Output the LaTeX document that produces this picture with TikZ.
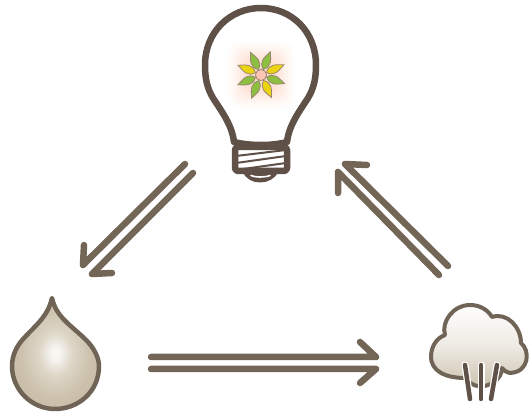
\documentclass[tikz,border=0pt]{standalone}
\usetikzlibrary{calc}
\definecolor{arrowc}{HTML}{736657}
\definecolor{bulbc}{HTML}{5F5048}
\definecolor{edgec}{HTML}{6F6455}
\definecolor{leafg}{HTML}{8CBF3F}
\definecolor{leafy}{HTML}{EBD40F}
\definecolor{leafe}{HTML}{9A8672}
\definecolor{glow}{HTML}{FBC9AE}
\definecolor{dropa}{HTML}{F8F7F4}
\definecolor{dropb}{HTML}{DDD5C6}
\definecolor{dropc}{HTML}{CCC2AD}
\definecolor{dropd}{HTML}{C2B7A0}
\definecolor{drope}{HTML}{A39882}
\definecolor{cloudb}{HTML}{CBC2AE}
\definecolor{cloudm}{HTML}{EEEAE3}
\pgfdeclareradialshading{dropshade}{\pgfpoint{0bp}{0bp}}{color(0bp)=(dropa);color(2bp)=(dropa);color(10bp)=(dropb);color(20bp)=(dropc);color(36bp)=(dropd);color(50bp)=(drope);color(100bp)=(drope)}
\tikzset{
  pair/.style={draw=arrowc,line width=6.5pt,line cap=round,line join=round},
  bulbline/.style={draw=bulbc,line width=6.5pt,line cap=round,line join=round},
  rain/.style={line cap=round,line width=4.5pt,draw=bulbc},
  rainhalo/.style={line cap=round,line width=7pt,draw=white},
  petal/.style={draw=leafe,line width=.8pt},
}
\newcommand{\leaf}[2]{%
  \fill[petal,fill=#2] (#1:6) .. controls ($(#1:6)+(#1+50:9)$) and ($(#1:25)+(#1+155:9)$) .. (#1:25) .. controls ($(#1:25)+(#1-155:9)$) and ($(#1:6)+(#1-50:9)$) .. (#1:6) -- cycle;}
\begin{document}
\begin{tikzpicture}[x=1pt,y=-1pt]
\useasboundingbox (0,0) rectangle (531,414);
\fill[white] (0,0) rectangle (531,414);
% glow
\begin{scope}[shift={(261,75)}]
\foreach \r/\m in {33/4,31/8,29/12,27/18,25/24,23/32,21/40,18/50,14/60}{
  \fill[glow!\m!white,rounded corners=10pt] (-\r,-\r) rectangle (\r,\r);
}
\foreach \a/\c in {-115/leafg,-68/leafg,-24/leafy,20/leafg,65/leafy,112/leafg,157/leafg,-157/leafy}{\leaf{\a}{\c}}
\fill[glow!70!pink,draw=leafe,line width=.8pt] (0,0) circle (5.6);
\end{scope}
% bulb
\path[bulbline] (234,142) .. controls (232,125) and (222,112) .. (213,98) .. controls (207,88) and (205,78) .. (205,65) .. controls (205,32) and (230,8) .. (261,8) .. controls (292,8) and (316,32) .. (316,65) .. controls (316,78) and (314,88) .. (308,98) .. controls (299,112) and (289,125) .. (287,142) .. controls (272,146) and (250,146) .. (234,142) -- cycle;
% screw
\path[bulbline,fill=white,rounded corners=3pt] (235,147) -- (287,147) -- (287,171) -- (235,171) -- cycle;
\path[draw=bulbc,line width=2pt] (236,156) -- (286,150) (236,163) -- (286,156) (236,170) -- (286,163);
\path[fill=bulbc] (243,172) .. controls (248,186) and (272,186) .. (278,172) -- cycle;
\path[draw=white,line width=1.6pt,line cap=round] (251,175.5) .. controls (255,177.5) and (265,177.5) .. (270,175.5);
% drop
\path[draw=edgec,line width=4.5pt,line join=round,shading=dropshade] (52,298) .. controls (56,316) and (68,323) .. (84,338) .. controls (94,347) and (99,358) .. (99,366) .. controls (99,392) and (78,409) .. (55,409) .. controls (32,409) and (12,390) .. (12,366) .. controls (12,355) and (17,345) .. (25,337) .. controls (37,324) and (48,316) .. (52,298) -- cycle;
% cloud
\path[draw=edgec,line width=4pt,line join=round,top color=white,bottom color=cloudb,middle color=cloudm] (465,378) .. controls (447,378) and (430,372) .. (431,355) .. controls (432,345) and (437,338) .. (445,335) .. controls (441,322) and (453,305) .. (470,305) .. controls (480,305) and (488,310) .. (492,317) .. controls (507,312) and (521,327) .. (521,343) .. controls (530,350) and (530,372) .. (510,373) .. controls (507,373) and (505,371) .. (502,368) .. controls (502,380) and (488,388) .. (478,386) .. controls (474,386) and (468,382) .. (465,378) -- cycle;
% rain
\coordinate (r1a) at (465,365); \coordinate (r1b) at (470,399);
\coordinate (r2a) at (481,365); \coordinate (r2b) at (481,399);
\coordinate (r3a) at (497,365); \coordinate (r3b) at (491,399);
\foreach \n in {1,2,3}{\draw[rainhalo] (r\n a) -- (r\n b);}
\foreach \n in {1,2,3}{\draw[rain] (r\n a) -- (r\n b);}
% arrows
\coordinate (a1s) at (185,164); \coordinate (a1e) at (83,265); \coordinate (a1b) at (84,245);
\coordinate (a2s) at (193,173); \coordinate (a2e) at (92,274); \coordinate (a2b) at (112,273);
\coordinate (b1s) at (439,275); \coordinate (b1e) at (338,172); \coordinate (b1b) at (338,193);
\coordinate (b2s) at (448,266); \coordinate (b2e) at (345,164); \coordinate (b2b) at (367,165);
\coordinate (c1s) at (151,357); \coordinate (c1e) at (376,357); \coordinate (c1b) at (360,342);
\coordinate (c2s) at (151,369); \coordinate (c2e) at (376,369); \coordinate (c2b) at (360,383);
\foreach \n in {a1,a2,b1,b2,c1,c2}{\path[pair] (\n s) -- (\n e) -- (\n b);}
\end{tikzpicture}
\end{document}
